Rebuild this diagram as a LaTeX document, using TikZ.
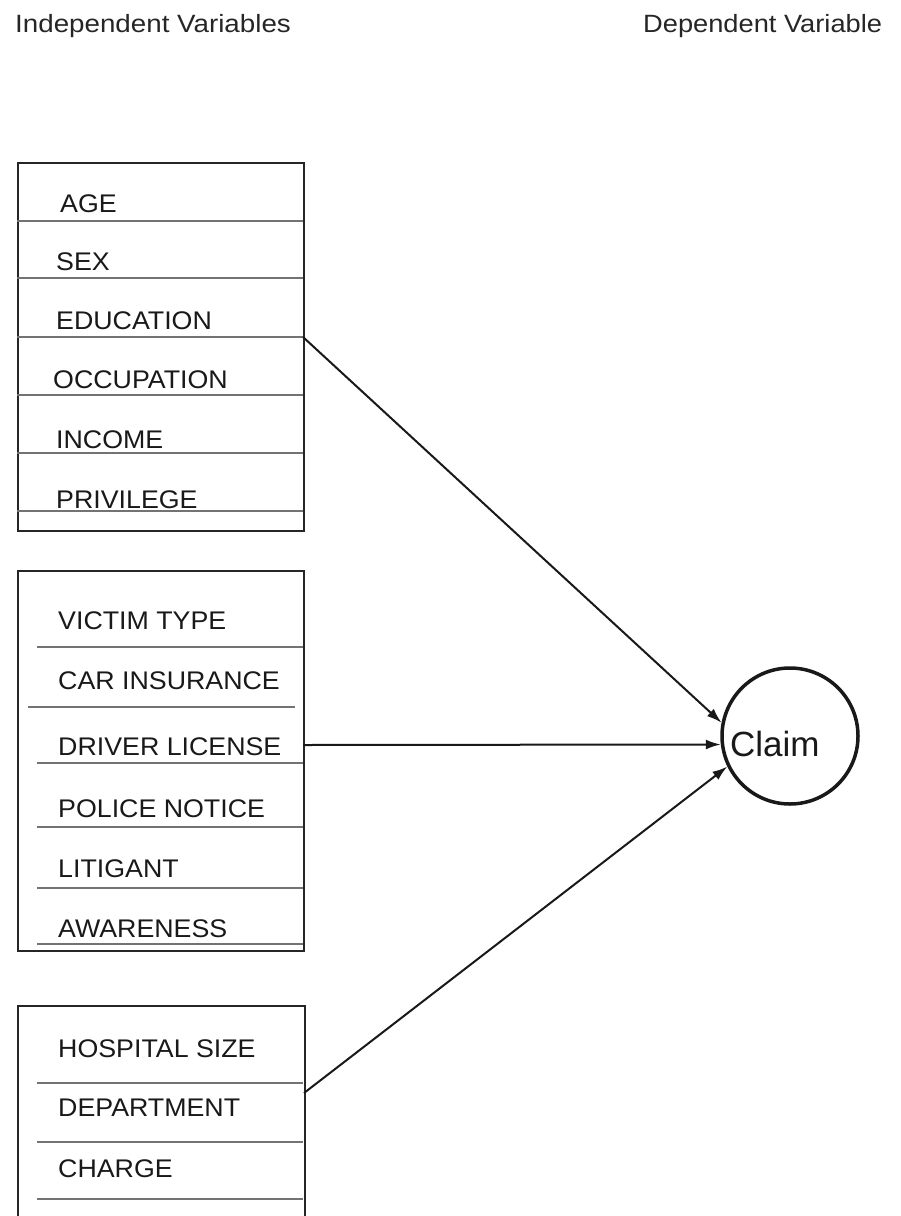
\documentclass[tikz,border=0pt]{standalone}
\usepackage{fontspec}
\setmainfont{Liberation Sans}
\usetikzlibrary{arrows.meta}
\tikzset{
  boxframe/.style={draw=black!85, line width=2.4pt, fill=none, inner sep=0pt},
  rule/.style={line width=1.1pt, black!55},
  lbl/.style={anchor=base west, inner sep=0pt, text=black!90, font=\fontsize{25.5}{30}\selectfont},
  hdr/.style={anchor=base west, inner sep=0pt, text=black!85, font=\fontsize{25}{30}\selectfont},
  arr/.style={-{Latex[length=15pt,width=10pt]}, line width=2pt, black!90},
}
\newcommand{\myw}[2][1.05]{\scalebox{#1}[1]{#2}}
\begin{document}
\begin{tikzpicture}[x=1pt,y=-1pt]
\useasboundingbox (0,0) rectangle (901,1216);
\clip (0,0) rectangle (901,1216);
% headers
\node[hdr] (h1) at (15,32) {\myw[1.11]{Independent Variables}};
\node[hdr] (h2) at (643,32) {\myw[1.09]{Dependent Variable}};
% box 1
\node[boxframe, anchor=north west, minimum width=286pt, minimum height=368pt] (b1) at (17,162) {};
\foreach \y in {221,278,337,395,453,511} \draw[rule] (17,\y) -- (303,\y);
\node[lbl] (t11) at (60,212) {\myw{AGE}};
\node[lbl] (t12) at (56,270) {\myw{SEX}};
\node[lbl] (t13) at (56,329) {\myw{EDUCATION}};
\node[lbl] (t14) at (53,388) {\myw{OCCUPATION}};
\node[lbl] (t15) at (56,448) {\myw{INCOME}};
\node[lbl] (t16) at (56,508) {\myw{PRIVILEGE}};
% box 2
\node[boxframe, anchor=north west, minimum width=286pt, minimum height=380pt] (b2) at (17,570) {};
\foreach \y in {647,763,827,888,944} \draw[rule] (37,\y) -- (303,\y);
\draw[rule] (28,707) -- (295,707);
\node[lbl] (t21) at (58,629) {\myw{VICTIM TYPE}};
\node[lbl] (t22) at (58,689) {\myw{CAR INSURANCE}};
\node[lbl] (t23) at (58,755) {\myw{DRIVER LICENSE}};
\node[lbl] (t24) at (58,817) {\myw{POLICE NOTICE}};
\node[lbl] (t25) at (58,877) {\myw{LITIGANT}};
\node[lbl] (t26) at (58,937) {\myw{AWARENESS}};
% box 3
\node[boxframe, anchor=north west, minimum width=287pt, minimum height=240pt] (b3) at (17,1005) {};
\foreach \y in {1083,1142,1199} \draw[rule] (37,\y) -- (303,\y);
\node[lbl] (t31) at (58,1057) {\myw{HOSPITAL SIZE}};
\node[lbl] (t32) at (58,1116) {\myw{DEPARTMENT}};
\node[lbl] (t33) at (58,1177) {\myw{CHARGE}};
% dependent
\node[draw=black!90, line width=3.5pt, circle, minimum size=136pt, inner sep=0pt] (claim) at (790,736) {};
\node[anchor=base west, inner sep=0pt, font=\fontsize{35}{40}\selectfont, text=black!90] (ct) at (730,756) {Claim};
% connectors
\coordinate (s1) at (303,337);
\coordinate (s2) at (303,745);
\coordinate (s3) at (304,1093);
\draw[arr] (s1) -- (claim.169);
\draw[arr] (s2) -- (claim.187);
\draw[arr] (s3) -- (claim.206);
\end{tikzpicture}
\end{document}
